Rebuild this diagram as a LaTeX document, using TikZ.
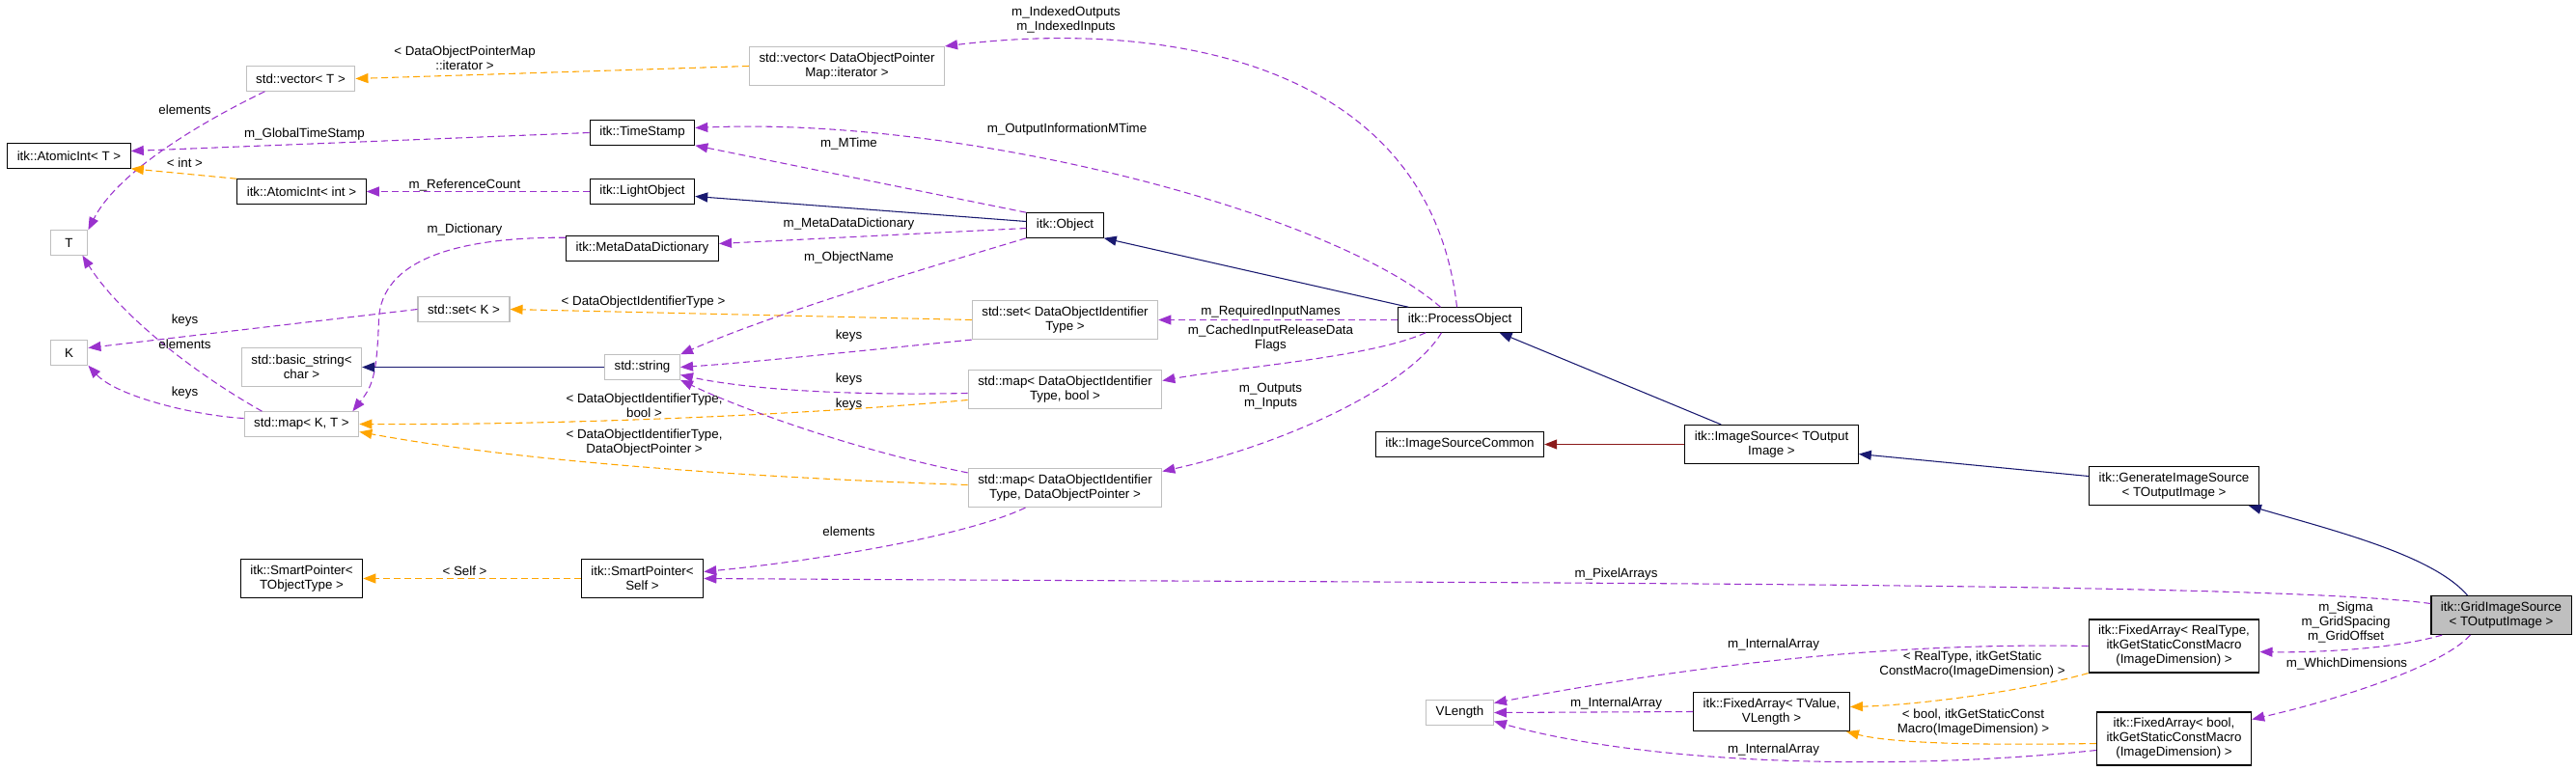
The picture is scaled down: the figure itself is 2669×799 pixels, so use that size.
\documentclass[tikz,border=0pt]{standalone}
\usepackage{fontspec}
\setmainfont{Liberation Sans}
\usetikzlibrary{arrows.meta}
\definecolor{edgeuse}{HTML}{9A32CD}
\definecolor{edgetpl}{HTML}{FFA500}
\definecolor{edgeinh}{HTML}{191970}
\definecolor{edgepriv}{HTML}{8B1A1A}
\definecolor{undoc}{HTML}{BFBFBF}

\begin{document}
\begin{tikzpicture}[
    x=0.75pt, y=-0.75pt,
    every node/.style={font=\fontsize{10}{11.25}\selectfont},
    cls/.style={rectangle, draw=black, line width=0.9pt, fill=white, align=center, inner xsep=7.5pt, inner ysep=2pt, minimum height=19pt},
    ext/.style={cls, draw=undoc},
    twoline/.style={minimum height=30pt},
    threeline/.style={minimum height=41.25pt},
    lbl/.style={align=center, inner sep=0pt},
    member/.style={draw=edgeuse, line width=0.8pt, dash pattern=on 5.25pt off 3pt, -{Triangle[length=9.75pt,width=7.5pt]}},
    templ/.style={member, draw=edgetpl},
    derive/.style={draw=edgeinh, line width=0.8pt, -{Triangle[length=9.75pt,width=7.5pt]}},
    derivepriv/.style={derive, draw=edgepriv}
]
\useasboundingbox (0,0) rectangle (2669,799);
\begin{scope}[shift={(0.5,0.5)}]

\node [ext, twoline] (vecIt) at (877,68) {std::vector< DataObjectPointer\\Map::iterator >};
\node [ext] (vecT) at (311,81) {std::vector< T >};
\node [cls] (atomT) at (71,161) {itk::AtomicInt< T >};
\node [cls] (stamp) at (665,137) {itk::TimeStamp};
\node [cls] (atomInt) at (312,198) {itk::AtomicInt< int >};
\node [cls] (lightObj) at (665,198) {itk::LightObject};
\node [ext, minimum width=29pt] (tT) at (71,251) {T};
\node [cls] (metaDict) at (665,257) {itk::MetaDataDictionary};
\node [ext] (setK) at (480,320) {std::set< K >};
\node [ext, minimum width=29pt] (tK) at (71,365) {K};
\node [ext, twoline] (basicStr) at (312,380) {std::basic\_string<\\char >};
\node [ext] (stdStr) at (665,380) {std::string};
\node [ext] (mapKT) at (312,439) {std::map< K, T >};
\node [cls, twoline] (smartT) at (312,599) {itk::SmartPointer<\\TObjectType >};
\node [cls, twoline] (smartSelf) at (665,599) {itk::SmartPointer<\\Self >};
\node [cls] (object) at (1103,233) {itk::Object};
\node [ext, twoline] (setId) at (1103,331) {std::set< DataObjectIdentifier\\Type >};
\node [ext, twoline] (mapBool) at (1103,403) {std::map< DataObjectIdentifier\\Type, bool >};
\node [ext, twoline] (mapPtr) at (1103,505) {std::map< DataObjectIdentifier\\Type, DataObjectPointer >};
\node [cls] (procObj) at (1512,331) {itk::ProcessObject};
\node [cls] (srcCommon) at (1512,460) {itk::ImageSourceCommon};
\node [ext] (vlen) at (1512,738) {VLength};
\node [cls, twoline] (imgSrc) at (1835,460) {itk::ImageSource< TOutput\\Image >};
\node [cls, twoline] (fixTV) at (1835,737) {itk::FixedArray< TValue,\\VLength >};
\node [cls, twoline] (genSrc) at (2252,503) {itk::GenerateImageSource\\< TOutputImage >};
\node [cls, threeline] (fixReal) at (2252,669) {itk::FixedArray< RealType,\\itkGetStaticConstMacro\\(ImageDimension) >};
\node [cls, threeline] (fixBool) at (2252,765) {itk::FixedArray< bool,\\itkGetStaticConstMacro\\(ImageDimension) >};
\node [cls, twoline, fill=undoc] (grid) at (2591,637) {itk::GridImageSource\\< TOutputImage >};

\path [member] ([xshift=-2.25pt]procObj.north) .. controls (1480,60) and (1200,20) .. (vecIt.north east) node [lbl] at (1104,20) {m\_IndexedOutputs\\m\_IndexedInputs};
\path [templ] (vecIt.west) -- (vecT.east) node [lbl] at (481,60) {< DataObjectPointerMap\\::iterator >};
\path [member] ([xshift=-27.75pt]vecT.south) .. controls (200,130) and (120,180) .. (tT.north east) node [lbl] at (191,113) {elements};
\path [member] (stamp.west) -- ([yshift=3.75pt]atomT.east) node [lbl] at (315,139) {m\_GlobalTimeStamp};
\path [templ] (atomInt.north west) -- (atomT.south east) node [lbl] at (191,168) {< int >};
\path [member] (lightObj.west) -- (atomInt.east) node [lbl] at (481,191) {m\_ReferenceCount};
\path [member] ([xshift=-15pt]procObj.north) .. controls (1380,220) and (1000,120) .. ([yshift=3.75pt]stamp.east) node [lbl] at (1105,134) {m\_OutputInformationMTime};
\path [member] (object.north west) -- (stamp.south east) node [lbl] at (879,148) {m\_MTime};
\path [derive] ([yshift=3pt]object.west) -- ([yshift=-3.75pt]lightObj.east);
\path [member] ([yshift=-2.25pt]object.west) -- ([yshift=3.75pt]metaDict.east) node [lbl] at (879,232) {m\_MetaDataDictionary};
\path [member] (object.south west) .. controls (950,280) and (800,325) .. (stdStr.north east) node [lbl] at (879,267) {m\_ObjectName};
\path [member] ([yshift=-1.5pt]metaDict.north west) .. controls (470,245) and (395,270) .. (392,330) .. controls (390,390) and (385,400) .. ([xshift=-5.25pt]mapKT.north east) node [lbl] at (481,238) {m\_Dictionary};
\path [member] (setK.west) -- ([yshift=3.75pt]tK.east) node [lbl] at (191,332) {keys};
\path [member] ([yshift=4.5pt]mapKT.west) .. controls (200,430) and (120,410) .. (tK.south east) node [lbl] at (191,407) {keys};
\path [member] ([xshift=-30.75pt]mapKT.north) .. controls (190,380) and (120,320) .. ([xshift=-4.5pt]tT.south east) node [lbl] at (191,356) {elements};
\path [derive] (stdStr.west) -- (basicStr.east);
\path [derive] ([xshift=8.25pt]procObj.north west) -- (object.south east);
\path [member] (procObj.west) -- (setId.east) node [lbl] at (1316,323) {m\_RequiredInputNames};
\path [member] ([xshift=21.75pt]procObj.south west) .. controls (1420,370) and (1280,380) .. ([yshift=6.75pt]mapBool.east) node [lbl] at (1316,350) {m\_CachedInputReleaseData\\Flags};
\path [member] ([xshift=-14.25pt]procObj.south) .. controls (1460,400) and (1330,460) .. ([yshift=12.75pt]mapPtr.east) node [lbl] at (1316,410) {m\_Outputs\\m\_Inputs};
\path [templ] (setId.west) -- (setK.east) node [lbl] at (666,313) {< DataObjectIdentifierType >};
\path [member] (setId.south west) .. controls (900,362) and (780,375) .. (stdStr.east) node [lbl] at (879,348) {keys};
\path [member] ([yshift=-3pt]mapBool.west) .. controls (850,410) and (760,400) .. ([yshift=-6pt]stdStr.east) node [lbl] at (879,393) {keys};
\path [templ] ([yshift=-8.25pt]mapBool.west) .. controls (850,428) and (600,440) .. (mapKT.east) node [lbl] at (667,420) {< DataObjectIdentifierType,\\bool >};
\path [member] ([yshift=-3.75pt]mapPtr.north west) .. controls (880,465) and (760,420) .. (stdStr.south east) node [lbl] at (879,419) {keys};
\path [templ] ([yshift=2.25pt]mapPtr.west) .. controls (800,495) and (550,480) .. ([yshift=-6pt]mapKT.east) node [lbl] at (667,458) {< DataObjectIdentifierType,\\DataObjectPointer >};
\path [member] ([xshift=-30.75pt]mapPtr.south) .. controls (1000,555) and (850,580) .. ([yshift=5.25pt]smartSelf.east) node [lbl] at (879,550) {elements};
\path [templ] (smartSelf.west) -- (smartT.east) node [lbl] at (481,591) {< Self >};
\path [member] ([yshift=9pt]grid.west) .. controls (2350,602) and (1500,604) .. (smartSelf.east) node [lbl] at (1674,595) {m\_PixelArrays};
\path [derivepriv] (imgSrc.west) -- (srcCommon.east);
\path [derive] ([xshift=28.5pt]imgSrc.north west) -- ([xshift=30.75pt]procObj.south);
\path [derive] ([yshift=7.5pt]genSrc.west) -- ([yshift=-7.5pt]imgSrc.east);
\path [derive] ([xshift=-26.25pt]grid.north) .. controls (2520,575) and (2420,550) .. ([xshift=-8.25pt]genSrc.south east);
\path [member] ([xshift=9pt]grid.south west) .. controls (2480,672) and (2400,676) .. ([yshift=-4.5pt]fixReal.east) node [lbl] at (2430,644) {m\_Sigma\\m\_GridSpacing\\m\_GridOffset};
\path [member] ([xshift=-24pt]grid.south) .. controls (2530,690) and (2420,725) .. ([yshift=15pt]fixBool.east) node [lbl] at (2431,687) {m\_WhichDimensions};
\path [member] (fixReal.west) .. controls (1950,665) and (1750,690) .. ([yshift=7.5pt]vlen.east) node [lbl] at (1837,668) {m\_InternalArray};
\path [templ] (fixReal.south west) .. controls (2100,715) and (1990,730) .. ([yshift=3.75pt]fixTV.east) node [lbl] at (2043,688) {< RealType, itkGetStatic\\ConstMacro(ImageDimension) >};
\path [member] (fixTV.west) -- (vlen.east) node [lbl] at (1674,729) {m\_InternalArray};
\path [templ] ([yshift=-3.75pt]fixBool.west) .. controls (2050,772) and (1960,770) .. ([xshift=-3pt]fixTV.south east) node [lbl] at (2044,748) {< bool, itkGetStaticConst\\Macro(ImageDimension) >};
\path [member] ([yshift=-9pt]fixBool.west) .. controls (1950,800) and (1700,790) .. ([yshift=-6.75pt]vlen.east) node [lbl] at (1837,777) {m\_InternalArray};
\end{scope}
\end{tikzpicture}
\end{document}
